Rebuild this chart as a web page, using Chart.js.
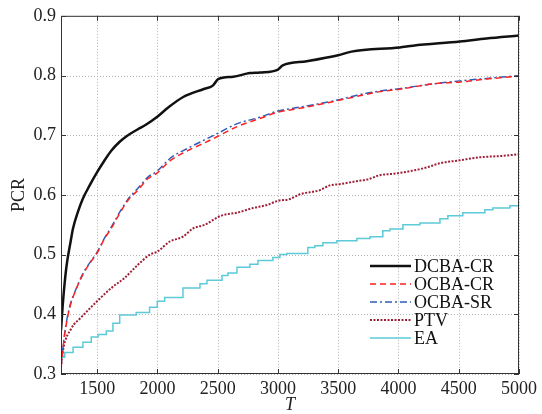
<!DOCTYPE html>
<html>
<head>
<meta charset="utf-8">
<script src="https://cdn.jsdelivr.net/npm/chart.js@4/dist/chart.umd.min.js"></script>
<style>
  html, body { margin: 0; padding: 0; background: #fff; }
  canvas { display: block; }
</style>
</head>
<body>
<canvas id="pcrChart" width="542" height="414"></canvas>
<script>
// budget T on the x axis, PCR on the y axis
const xTicks = [1500, 2000, 2500, 3000, 3500, 4000, 4500, 5000];
const yTicks = [0.3, 0.4, 0.5, 0.6, 0.7, 0.8, 0.9];
const seriesNames = ["DCBA-CR", "OCBA-CR", "OCBA-SR", "PTV", "EA"];

const tDcba = [1200, 1217, 1244, 1280, 1300, 1341, 1382, 1438, 1500, 1562, 1617, 1687, 1741, 1838, 1907, 1999, 2087, 2214, 2380, 2460, 2504, 2629, 2767, 2850, 3000, 3040, 3240, 3500, 3610, 4010, 4120, 4510, 4730, 5000];
const pcrDcba = [0.373, 0.422, 0.478, 0.522, 0.544, 0.572, 0.594, 0.616, 0.638, 0.658, 0.674, 0.689, 0.698, 0.710, 0.718, 0.731, 0.746, 0.764, 0.777, 0.783, 0.794, 0.798, 0.804, 0.805, 0.810, 0.817, 0.824, 0.834, 0.840, 0.847, 0.850, 0.857, 0.862, 0.867];

const tOcbaCr = [1200, 1231, 1272, 1314, 1382, 1451, 1500, 1562, 1617, 1687, 1756, 1838, 1921, 1999, 2104, 2270, 2400, 2500, 2657, 2850, 2990, 3182, 3497, 3655, 3845, 4010, 4285, 4510, 4730, 5000];
const pcrOcbaCr = [0.312, 0.367, 0.411, 0.436, 0.467, 0.489, 0.503, 0.527, 0.544, 0.569, 0.591, 0.608, 0.627, 0.637, 0.657, 0.676, 0.688, 0.698, 0.714, 0.728, 0.738, 0.745, 0.758, 0.765, 0.773, 0.777, 0.786, 0.789, 0.794, 0.799];

const tOcbaSr = [1200, 1231, 1272, 1314, 1382, 1451, 1500, 1562, 1617, 1687, 1756, 1838, 1921, 1999, 2104, 2270, 2400, 2500, 2657, 2850, 2990, 3182, 3497, 3655, 3845, 4010, 4285, 4510, 4730, 5000];
const pcrOcbaSr = [0.312, 0.369, 0.413, 0.437, 0.468, 0.490, 0.504, 0.528, 0.546, 0.571, 0.593, 0.611, 0.630, 0.640, 0.661, 0.680, 0.693, 0.703, 0.719, 0.730, 0.740, 0.747, 0.759, 0.767, 0.774, 0.778, 0.786, 0.791, 0.795, 0.800];

const tPtv = [1200, 1217, 1285, 1368, 1440, 1500, 1617, 1728, 1838, 1938, 1999, 2104, 2212, 2297, 2394, 2504, 2560, 2657, 2792, 2908, 2999, 3099, 3182, 3348, 3431, 3513, 3654, 3746, 3845, 3986, 4235, 4343, 4509, 4674, 4840, 5000];
const pcrPtv = [0.311, 0.340, 0.376, 0.395, 0.410, 0.422, 0.444, 0.461, 0.483, 0.500, 0.505, 0.522, 0.530, 0.544, 0.550, 0.563, 0.567, 0.570, 0.578, 0.583, 0.590, 0.593, 0.601, 0.608, 0.616, 0.618, 0.623, 0.626, 0.633, 0.636, 0.646, 0.653, 0.658, 0.663, 0.665, 0.668];

const tEa = [1200, 1231, 1300, 1382, 1451, 1507, 1576, 1631, 1687, 1824, 1935, 1999, 2060, 2212, 2353, 2411, 2536, 2585, 2660, 2767, 2834, 2958, 3016, 3074, 3248, 3306, 3373, 3489, 3655, 3763, 3870, 3929, 4037, 4178, 4344, 4410, 4534, 4717, 4783, 4924, 4990, 5000];
const pcrEa = [0.320, 0.328, 0.336, 0.345, 0.353, 0.362, 0.366, 0.372, 0.385, 0.399, 0.403, 0.412, 0.422, 0.428, 0.444, 0.451, 0.457, 0.465, 0.469, 0.479, 0.484, 0.490, 0.495, 0.500, 0.502, 0.512, 0.515, 0.520, 0.523, 0.527, 0.530, 0.540, 0.543, 0.550, 0.553, 0.560, 0.565, 0.570, 0.575, 0.578, 0.582, 0.582];

const serif = "'Liberation Serif', 'Times New Roman', serif";

function toPoints(xs, ys) {
  return xs.map((x, i) => ({ x: x, y: ys[i] }));
}

// dotted grid under the lines
const dottedGrid = {
  id: "dottedGrid",
  beforeDatasetsDraw(chart) {
    const { ctx, chartArea: a, scales } = chart;
    ctx.save();
    ctx.strokeStyle = "#b4b4b4";
    ctx.lineWidth = 1;
    ctx.setLineDash([1, 2]);
    ctx.beginPath();
    xTicks.forEach((v) => {
      const px = Math.round(scales.x.getPixelForValue(v)) + 0.5;
      ctx.moveTo(px, a.top);
      ctx.lineTo(px, a.bottom);
    });
    yTicks.forEach((v) => {
      const py = Math.round(scales.y.getPixelForValue(v)) + 0.5;
      ctx.moveTo(a.left, py);
      ctx.lineTo(a.right, py);
    });
    ctx.stroke();
    ctx.restore();
  },
};

// box round the plot, MATLAB-style inward ticks, and the legend in the corner
const frameAndLegend = {
  id: "frameAndLegend",
  afterDraw(chart) {
    const { ctx, chartArea: a, scales } = chart;
    ctx.save();
    ctx.strokeStyle = "#333";
    ctx.lineWidth = 1;
    ctx.setLineDash([]);
    ctx.strokeRect(a.left + 0.5, a.top + 0.5, a.right - a.left - 1, a.bottom - a.top - 1);

    const tl = 5;
    ctx.beginPath();
    xTicks.forEach((v) => {
      const px = Math.round(scales.x.getPixelForValue(v)) + 0.5;
      ctx.moveTo(px, a.bottom); ctx.lineTo(px, a.bottom - tl);
      ctx.moveTo(px, a.top); ctx.lineTo(px, a.top + tl);
    });
    yTicks.forEach((v) => {
      const py = Math.round(scales.y.getPixelForValue(v)) + 0.5;
      ctx.moveTo(a.left, py); ctx.lineTo(a.left + tl, py);
      ctx.moveTo(a.right, py); ctx.lineTo(a.right - tl, py);
    });
    ctx.stroke();

    // legend
    const lx0 = 370, lx1 = 411, tx = 414, y0 = 266, dy = 18;
    ctx.font = "18px " + serif;
    ctx.textBaseline = "middle";
    ctx.textAlign = "left";
    chart.data.datasets.forEach((ds, i) => {
      const y = y0 + i * dy;
      ctx.strokeStyle = ds.borderColor;
      ctx.lineWidth = ds.borderWidth;
      ctx.setLineDash(ds.borderDash || []);
      ctx.beginPath();
      ctx.moveTo(lx0, y);
      ctx.lineTo(lx1, y);
      ctx.stroke();
      ctx.setLineDash([]);
      ctx.fillStyle = "#111";
      ctx.fillText(ds.label, tx, y + 1);
    });
    ctx.restore();
  },
};

const ctx = document.getElementById("pcrChart").getContext("2d");
const pcrChart = new Chart(ctx, {
  type: "line",
  data: {
    datasets: [
      { label: seriesNames[0], data: toPoints(tDcba, pcrDcba), borderColor: "#111111", borderWidth: 2.5, cubicInterpolationMode: "monotone" },
      { label: seriesNames[1], data: toPoints(tOcbaCr, pcrOcbaCr), borderColor: "#ff2020", borderWidth: 1.5, borderDash: [6, 4], cubicInterpolationMode: "monotone" },
      { label: seriesNames[2], data: toPoints(tOcbaSr, pcrOcbaSr), borderColor: "#2f5cb8", borderWidth: 1.5, borderDash: [7, 3, 2, 3], cubicInterpolationMode: "monotone" },
      { label: seriesNames[3], data: toPoints(tPtv, pcrPtv), borderColor: "#9e1f36", borderWidth: 2, borderDash: [2, 1.5], cubicInterpolationMode: "monotone" },
      { label: seriesNames[4], data: toPoints(tEa, pcrEa), borderColor: "#5ccad8", borderWidth: 1.5, stepped: "after" },
    ],
  },
  options: {
    responsive: false,
    animation: false,
    layout: { padding: { top: 12, right: 23, left: 0, bottom: 0 } },
    elements: { point: { radius: 0 }, line: { tension: 0, fill: false } },
    plugins: { legend: { display: false }, tooltip: { enabled: false } },
    scales: {
      x: {
        type: "linear",
        min: 1200,
        max: 5000,
        afterBuildTicks: (s) => { s.ticks = xTicks.map((v) => ({ value: v })); },
        afterFit: (s) => { s.height = 40; },
        grid: { display: false, drawTicks: false },
        border: { display: false },
        ticks: { padding: 4, color: "#222", font: { family: serif, size: 18 }, maxRotation: 0, callback: (v) => String(v) },
        title: { display: true, text: "T", color: "#222", padding: { top: 0, bottom: 0 }, font: { family: serif, size: 18, style: "italic", lineHeight: 1 } },
      },
      y: {
        min: 0.3,
        max: 0.9,
        afterBuildTicks: (s) => { s.ticks = yTicks.map((v) => ({ value: v })); },
        afterFit: (s) => { s.width = 61; },
        grid: { display: false, drawTicks: false },
        border: { display: false },
        ticks: { padding: 5, color: "#222", font: { family: serif, size: 18 }, callback: (v) => v.toFixed(1) },
        title: { display: true, text: "PCR", color: "#222", padding: { top: 10, bottom: 0 }, font: { family: serif, size: 18, lineHeight: 1 } },
      },
    },
  },
  plugins: [dottedGrid, frameAndLegend],
});
</script>
</body>
</html>
